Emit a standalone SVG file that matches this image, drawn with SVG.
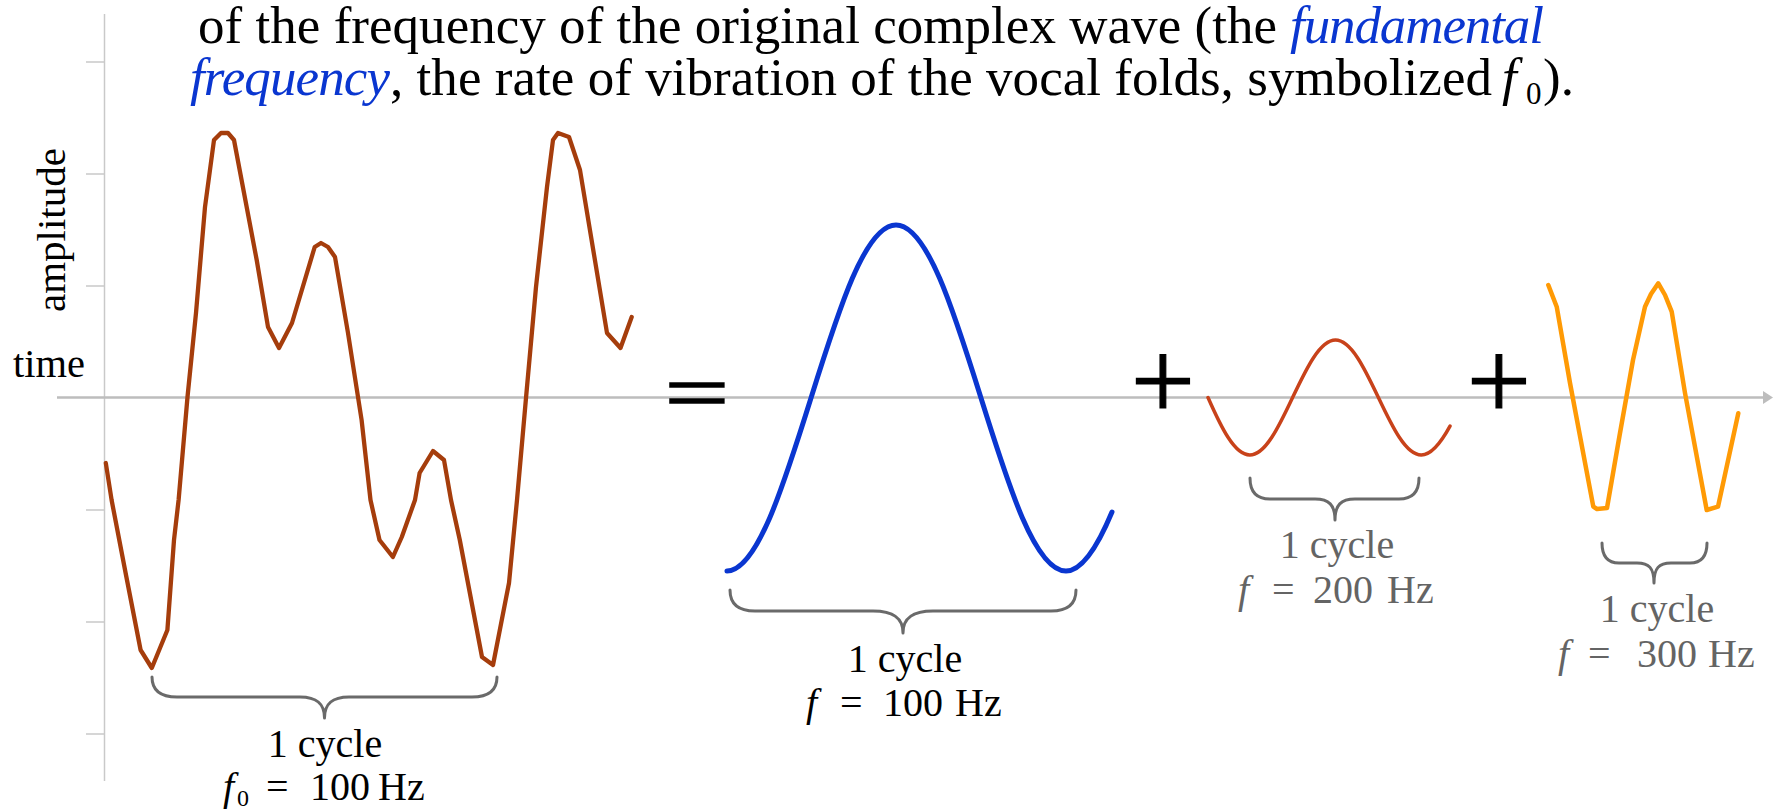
<svg xmlns="http://www.w3.org/2000/svg" width="1773" height="810" viewBox="0 0 1773 810">
<style>
  .serif { font-family: "Liberation Serif", "Times New Roman", serif; }
  .main { font-size: 53px; fill: #000; }
  .blue { fill: #0a36d0; font-style: italic; }
  .lbl { font-size: 40px; text-anchor: middle; }
  .lblk { fill: #000; }
  .lgry { fill: #646464; }
  .op { font-size: 114px; text-anchor: middle; fill: #000; stroke: #000; }
  .brace { fill: none; stroke: #6a6a6a; stroke-width: 3; stroke-linecap: round; stroke-linejoin: round; }
  .wave { fill: none; stroke-linejoin: round; stroke-linecap: round; }
  .tick { stroke: #c9c9c9; stroke-width: 1.5; }
</style>

<g id="heading" class="serif main">
  <text x="198" y="43"><tspan textLength="1079" lengthAdjust="spacing">of the frequency of the original complex wave (the</tspan><tspan x="1290" class="blue" textLength="254" lengthAdjust="spacing">fundamental</tspan></text>
  <text y="95"><tspan x="190" class="blue" textLength="200" lengthAdjust="spacing">frequency</tspan><tspan x="390" textLength="1102" lengthAdjust="spacing">, the rate of vibration of the vocal folds, symbolized</tspan><tspan x="1502" font-style="italic">f</tspan><tspan x="1526" dy="9" font-size="31">0</tspan><tspan x="1543" dy="-9">).</tspan></text>
</g>

<g id="axes">
  <line x1="104.5" y1="14" x2="104.5" y2="781" class="tick"/>
  <line x1="86" y1="62" x2="104" y2="62" class="tick"/>
  <line x1="86" y1="174" x2="104" y2="174" class="tick"/>
  <line x1="86" y1="286" x2="104" y2="286" class="tick"/>
  <line x1="86" y1="510" x2="104" y2="510" class="tick"/>
  <line x1="86" y1="622" x2="104" y2="622" class="tick"/>
  <line x1="86" y1="734" x2="104" y2="734" class="tick"/>
  <line x1="57" y1="397.5" x2="1765" y2="397.5" stroke="#bdbdbd" stroke-width="2.5"/>
  <polygon points="1763,391 1773,397.5 1763,404" fill="#bdbdbd"/>
  <text class="serif" font-size="41" fill="#000" transform="translate(65,312) rotate(-90)">amplitude</text>
  <text class="serif" font-size="40.5" fill="#000" x="13" y="377">time</text>
</g>

<g id="complex-wave">
  <polyline class="wave" stroke="#a53d0c" stroke-width="4.3" points="105.8,463 111.6,500 126,575 140.6,650 151.8,668 160,648 167.4,630 174,540 178.6,500 187.5,397 196,313 205,207 214,140 221,133 228,133 234,140 256.7,260 268,327 279,348 292,323 314.7,247 321,243 328,247 335,257 348,333 361.6,420 370.5,500 379.5,540 392.9,557 401.8,537 415,500 419.6,473 433,451 444,460 451,500 459.8,540 482,657 493,665 509,583 517,500 526,398 536,287 547,187 553,140 558,133 569,137 580,170 607,333 620.5,348 631.7,317"/>
  <path class="brace" d="M152,677 Q152,697 177,697 L300,697 C316,697 324.5,703 324.5,718 C324.5,703 333,697 349,697 L472,697 Q497,697 497,677"/>
  <text class="serif lbl lblk" x="325" y="757">1 cycle</text>
  <text class="serif lblk" font-size="40" y="800"><tspan x="223" font-style="italic">f</tspan><tspan x="237" dy="6" font-size="24">0</tspan><tspan x="266" dy="-6">=</tspan><tspan x="310">100</tspan><tspan x="378">Hz</tspan></text>
</g>

<g id="equals">
  <text class="serif op" stroke-width="2.4" transform="translate(697,419.5) scale(1,0.7)" x="0" y="0">=</text>
</g>

<g id="fundamental-wave">
  <path class="wave" stroke="#0a36d0" stroke-width="5" d="M727,571 C756.8,571 783.3,486.6 811,398 C838.7,309.4 865.2,225 896,225 C926.8,225 953.3,309.4 981,398 C1008.7,486.6 1035.2,571 1066,571 C1081.3,571 1096.7,548.7 1112,512"/>
  <path class="brace" d="M730,590 Q730,611 755,611 L873,611 C892,611 903,617 903,633 C903,617 914,611 933,611 L1051,611 Q1076,611 1076,590"/>
  <text class="serif lbl lblk" x="905" y="672">1 cycle</text>
  <text class="serif lblk" font-size="40" y="716"><tspan x="806" font-style="italic">f</tspan><tspan x="840">=</tspan><tspan x="883">100</tspan><tspan x="955">Hz</tspan></text>
</g>

<g id="plus-1">
  <text class="serif op" stroke-width="1.2" x="1163" y="419">+</text>
</g>

<g id="second-harmonic">
  <path class="wave" stroke="#c8421a" stroke-width="3.5" d="M1208,397.5 C1221,427 1234.4,455 1249.8,455 C1265.3,455 1278.7,427 1292.6,397.5 C1306.6,368 1320,340 1335.5,340 C1351,340 1364.4,368 1378.4,397.5 C1392.4,427 1405.8,455 1421.3,455 C1430.9,455 1440.4,443.7 1450,426.1"/>
  <path class="brace" d="M1250,478 Q1250,499 1270,499 L1315,499 C1329,499 1335,505 1335,520 C1335,505 1341,499 1355,499 L1399,499 Q1419,499 1419,478"/>
  <text class="serif lbl lgry" x="1337" y="558">1 cycle</text>
  <text class="serif lgry" font-size="40" y="603"><tspan x="1238" font-style="italic">f</tspan><tspan x="1272">=</tspan><tspan x="1313">200</tspan><tspan x="1387">Hz</tspan></text>
</g>

<g id="plus-2">
  <text class="serif op" stroke-width="1.2" x="1499" y="419">+</text>
</g>

<g id="third-harmonic">
  <polyline class="wave" stroke="#ff9a05" stroke-width="4.5" points="1548.3,285 1556.7,306.7 1570,383 1593.3,506.7 1597,509 1607,508 1620,433 1633,360 1645,306.7 1651,294 1658.3,283.3 1665,295 1671.7,311.7 1685,393 1706.7,510 1718,506.7 1738.3,413.3"/>
  <path class="brace" d="M1602,543 Q1602,563 1619,563 L1637,563 C1649,563 1654,568 1654,583 C1654,568 1659,563 1671,563 L1690,563 Q1707,563 1707,543"/>
  <text class="serif lbl lgry" x="1657" y="622">1 cycle</text>
  <text class="serif lgry" font-size="40" y="667"><tspan x="1558" font-style="italic">f</tspan><tspan x="1588">=</tspan><tspan x="1637">300</tspan><tspan x="1708">Hz</tspan></text>
</g>
</svg>
